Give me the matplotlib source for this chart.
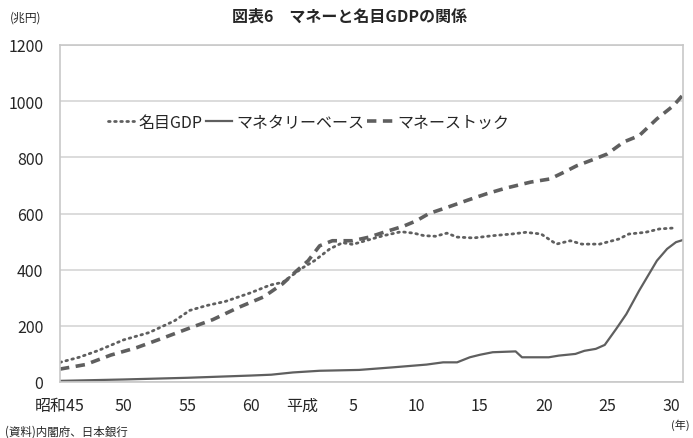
import matplotlib
matplotlib.use("Agg")
import matplotlib.pyplot as plt

plt.rcParams['font.family'] = ['Noto Sans CJK JP', 'DejaVu Sans']

# Nominal GDP (trillion yen), x in calendar years
gdp_year = [1970.0, 1971.5, 1973.0, 1975.0, 1977.0, 1979.0, 1980.2, 1981.5, 1983.0,
            1985.0, 1986.5, 1987.5, 1989.0, 1990.0, 1991.2, 1992.2, 1993.0, 1994.0,
            1995.4, 1996.8, 1997.8, 1998.6, 1999.5, 2000.4, 2001.2, 2002.5, 2004.0,
            2005.5, 2006.6, 2007.8, 2009.0, 2010.1, 2011.0, 2012.4, 2013.9, 2014.7,
            2016.0, 2017.1, 2018.1]
gdp_val = [70, 88, 112, 150, 176, 218, 255, 272, 287,
           318, 345, 355, 405, 432, 474, 496, 490, 503,
           521, 535, 530, 521, 519, 530, 516, 513, 521,
           527, 533, 527, 491, 503, 491, 491, 509, 527,
           533, 545, 548]

# Monetary base (trillion yen)
base_year = [1970.0, 1975.0, 1980.0, 1985.0, 1986.6, 1988.3, 1990.4, 1993.5, 1996.1,
             1998.8, 2000.1, 2001.2, 2002.2, 2003.0, 2004.0, 2005.8, 2006.3, 2008.4,
             2009.2, 2010.5, 2011.2, 2012.1, 2012.8, 2013.7, 2014.5, 2015.5, 2016.9,
             2017.7, 2018.4, 2018.9]
base_val = [4, 9, 15, 23, 26, 34, 40, 43, 52,
            62, 70, 70, 88, 97, 106, 109, 88, 88,
            94, 100, 111, 118, 132, 189, 242, 325, 432,
            474, 498, 505]

# Money stock (trillion yen)
stock_year = [1970.0, 1972.0, 1974.0, 1976.0, 1978.0, 1980.0, 1982.0, 1984.0, 1986.0,
              1987.5, 1988.5, 1989.5, 1990.4, 1991.4, 1993.0, 1994.3, 1995.5, 1997.0,
              1998.0, 1999.0, 2000.5, 2002.0, 2003.5, 2005.0, 2007.0, 2008.5, 2009.6,
              2010.6, 2012.0, 2013.0, 2014.3, 2015.5, 2016.9, 2018.2, 2018.9]
stock_val = [46, 62, 96, 122, 155, 189, 222, 265, 303,
             350, 392, 432, 485, 503, 503, 516, 534, 555,
             574, 600, 623, 647, 670, 690, 712, 723, 747,
             770, 794, 812, 855, 877, 937, 984, 1020]

tick_pos = [1970, 1975, 1980, 1985, 1989, 1993, 1998, 2003, 2008, 2013, 2018]
tick_labels = ['昭和45', '50', '55', '60', '平成', '5', '10', '15', '20', '25', '30']
y_ticks = [0, 200, 400, 600, 800, 1000, 1200]

line_color = '#5f5f5f'
text_color = '#262626'

fig = plt.figure(figsize=(6.93, 4.39), dpi=100)
ax = fig.add_axes([60 / 693, 1 - 383 / 439, 623 / 693, 337 / 439])

ax.plot(gdp_year, gdp_val, color=line_color, lw=2.0, linestyle=(0, (0.6, 1.6)),
        dash_capstyle='round', label='名目GDP')
ax.plot(base_year, base_val, color=line_color, lw=1.6, linestyle='-',
        label='マネタリーベース')
ax.plot(stock_year, stock_val, color=line_color, lw=2.6, linestyle=(0, (2.6, 1.8)),
        label='マネーストック')

ax.set_xlim(1970, 2018.95)
ax.set_ylim(0, 1200)
ax.set_yticks(y_ticks)
ax.set_yticklabels([str(v) for v in y_ticks])
ax.set_xticks(tick_pos)
ax.set_xticklabels(tick_labels)
ax.grid(axis='y', color='#d9d9d9', lw=1.3)
ax.set_axisbelow(True)
ax.tick_params(axis='both', length=0, labelsize=11.5, labelcolor=text_color)
ax.tick_params(axis='y', pad=12)
ax.tick_params(axis='x', pad=11)
for s in ax.spines.values():
    s.set_color('#c8c8c8')
    s.set_linewidth(1.2)

leg = ax.legend(loc='upper left', bbox_to_anchor=(0.077, 0.795), ncol=3, frameon=False,
                fontsize=11.5, handlelength=1.65, handletextpad=0.25,
                columnspacing=0.2, borderaxespad=0, borderpad=0)
for t in leg.get_texts():
    t.set_color(text_color)

fig.text(0.505, 0.962, '図表6　マネーと名目GDPの関係', ha='center', va='center',
         fontsize=11.5, fontweight='bold', color=text_color)
fig.text(0.014, 0.959, '(兆円)', ha='left', va='center', fontsize=8.5, color=text_color)
fig.text(0.007, 0.016, '(資料)内閣府、日本銀行', ha='left', va='center', fontsize=8.3,
         color=text_color)
fig.text(0.995, 0.032, '(年)', ha='right', va='center', fontsize=8, color=text_color)

fig.savefig('out.png', dpi=100, facecolor='white')
